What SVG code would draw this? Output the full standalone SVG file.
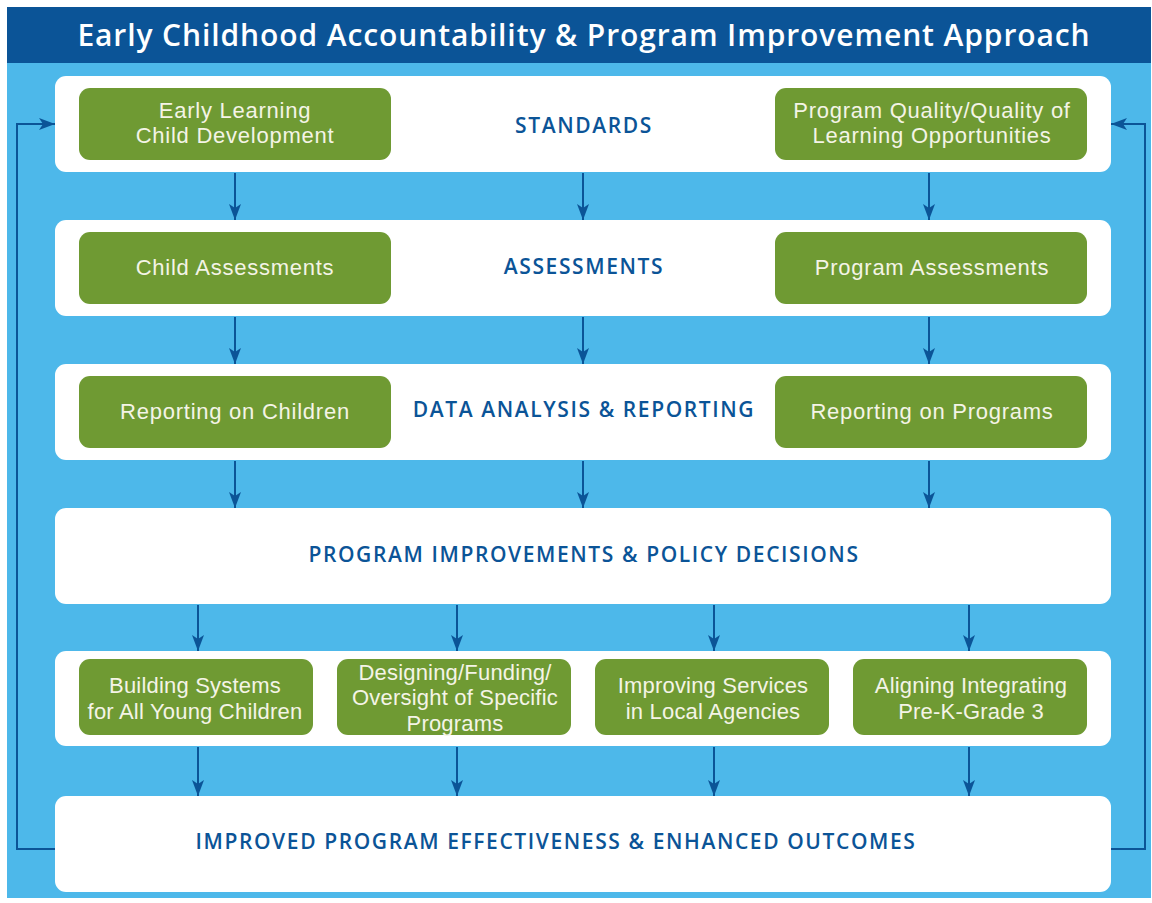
<svg xmlns="http://www.w3.org/2000/svg" width="1152" height="903" viewBox="0 0 1152 903">
<defs>
<style>
.panel{fill:#ffffff}
.gbox{fill:#6f9a33}
.gt{font-family:"Liberation Sans",Arial,sans-serif;font-size:22px;letter-spacing:0.75px;fill:#f4f4e6;text-anchor:middle}
.gs{letter-spacing:0.2px}
.pt{font-family:"Open Sans","Liberation Sans",sans-serif;font-size:21px;font-weight:600;letter-spacing:1.6px;fill:#0b5497;text-anchor:middle}
.title{font-family:"Open Sans","Liberation Sans",sans-serif;font-size:30px;font-weight:600;letter-spacing:0.9px;fill:#ffffff;text-anchor:middle}
.conn{stroke:#0b5497;stroke-width:2;fill:none}
</style>
<marker id="ah" viewBox="0 0 16 12" refX="16" refY="6" markerWidth="16" markerHeight="12" markerUnits="userSpaceOnUse" orient="auto">
<path d="M0,0 L16,6 L0,12 L4,6 Z" fill="#0b5497"/>
</marker>
</defs>
<rect x="0" y="0" width="1152" height="903" fill="#ffffff"/>
<rect x="7" y="63" width="1144" height="835" fill="#4db8ea"/>
<g id="header">
<rect x="7" y="7" width="1144" height="56" fill="#0b5497"/>
<text class="title" x="584" y="46">Early Childhood Accountability &amp; Program Improvement Approach</text>
</g>
<g id="standards">
<rect class="panel" x="55" y="76" width="1056" height="96" rx="11"/>
<text class="pt" x="584" y="133">STANDARDS</text>
</g>
<g id="early-learning">
<rect class="gbox" x="79" y="88" width="312" height="72" rx="11"/>
<text class="gt" x="235" y="118">Early Learning</text>
<text class="gt" x="235" y="143">Child Development</text>
</g>
<g id="program-quality">
<rect class="gbox" x="775" y="88" width="312" height="72" rx="11"/>
<text class="gt" x="932" y="118">Program Quality/Quality of</text>
<text class="gt" x="932" y="143">Learning Opportunities</text>
</g>
<g id="assessments">
<rect class="panel" x="55" y="220" width="1056" height="96" rx="11"/>
<text class="pt" x="584" y="274">ASSESSMENTS</text>
</g>
<g id="child-assessments">
<rect class="gbox" x="79" y="232" width="312" height="72" rx="11"/>
<text class="gt" x="235" y="275">Child Assessments</text>
</g>
<g id="program-assessments">
<rect class="gbox" x="775" y="232" width="312" height="72" rx="11"/>
<text class="gt" x="932" y="275">Program Assessments</text>
</g>
<g id="data-analysis">
<rect class="panel" x="55" y="364" width="1056" height="96" rx="11"/>
<text class="pt" x="584" y="417">DATA ANALYSIS &amp; REPORTING</text>
</g>
<g id="reporting-children">
<rect class="gbox" x="79" y="376" width="312" height="72" rx="11"/>
<text class="gt" x="235" y="419">Reporting on Children</text>
</g>
<g id="reporting-programs">
<rect class="gbox" x="775" y="376" width="312" height="72" rx="11"/>
<text class="gt" x="932" y="419">Reporting on Programs</text>
</g>
<g id="program-improvements">
<rect class="panel" x="55" y="508" width="1056" height="96" rx="11"/>
<text class="pt" x="584" y="562">PROGRAM IMPROVEMENTS &amp; POLICY DECISIONS</text>
</g>
<g id="areas">
<rect class="panel" x="55" y="651" width="1056" height="95" rx="11"/>
</g>
<g id="building-systems">
<rect class="gbox" x="79" y="659" width="234" height="76" rx="11"/>
<text class="gt gs" x="195" y="693">Building Systems</text>
<text class="gt gs" x="195" y="719">for All Young Children</text>
</g>
<g id="designing-funding">
<rect class="gbox" x="337" y="659" width="234" height="76" rx="11"/>
<text class="gt gs" x="455" y="680">Designing/Funding/</text>
<text class="gt gs" x="455" y="705">Oversight of Specific</text>
<text class="gt gs" x="455" y="731">Programs</text>
</g>
<g id="improving-services">
<rect class="gbox" x="595" y="659" width="234" height="76" rx="11"/>
<text class="gt gs" x="713" y="693">Improving Services</text>
<text class="gt gs" x="713" y="719">in Local Agencies</text>
</g>
<g id="aligning">
<rect class="gbox" x="853" y="659" width="234" height="76" rx="11"/>
<text class="gt gs" x="971" y="693">Aligning Integrating</text>
<text class="gt gs" x="971" y="719">Pre-K-Grade 3</text>
</g>
<g id="improved-outcomes">
<rect class="panel" x="55" y="796" width="1056" height="96" rx="11"/>
<text class="pt" x="556" y="849">IMPROVED PROGRAM EFFECTIVENESS &amp; ENHANCED OUTCOMES</text>
</g>
<g id="connectors">
<line class="conn" x1="235" y1="173" x2="235" y2="220" marker-end="url(#ah)"/>
<line class="conn" x1="583" y1="173" x2="583" y2="220" marker-end="url(#ah)"/>
<line class="conn" x1="929" y1="173" x2="929" y2="220" marker-end="url(#ah)"/>
<line class="conn" x1="235" y1="317" x2="235" y2="364" marker-end="url(#ah)"/>
<line class="conn" x1="583" y1="317" x2="583" y2="364" marker-end="url(#ah)"/>
<line class="conn" x1="929" y1="317" x2="929" y2="364" marker-end="url(#ah)"/>
<line class="conn" x1="235" y1="461" x2="235" y2="508" marker-end="url(#ah)"/>
<line class="conn" x1="583" y1="461" x2="583" y2="508" marker-end="url(#ah)"/>
<line class="conn" x1="929" y1="461" x2="929" y2="508" marker-end="url(#ah)"/>
<line class="conn" x1="198" y1="605" x2="198" y2="651" marker-end="url(#ah)"/>
<line class="conn" x1="457" y1="605" x2="457" y2="651" marker-end="url(#ah)"/>
<line class="conn" x1="714" y1="605" x2="714" y2="651" marker-end="url(#ah)"/>
<line class="conn" x1="969" y1="605" x2="969" y2="651" marker-end="url(#ah)"/>
<line class="conn" x1="198" y1="747" x2="198" y2="796" marker-end="url(#ah)"/>
<line class="conn" x1="457" y1="747" x2="457" y2="796" marker-end="url(#ah)"/>
<line class="conn" x1="714" y1="747" x2="714" y2="796" marker-end="url(#ah)"/>
<line class="conn" x1="969" y1="747" x2="969" y2="796" marker-end="url(#ah)"/>
<polyline class="conn" points="55,849 17,849 17,124 55,124" marker-end="url(#ah)"/>
<polyline class="conn" points="1111,849 1145,849 1145,124 1111,124" marker-end="url(#ah)"/>
</g>
</svg>
